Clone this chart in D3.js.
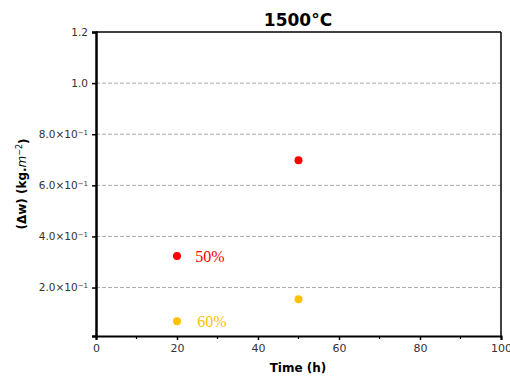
<!DOCTYPE html>
<html><head><meta charset="utf-8">
<script src="https://cdn.jsdelivr.net/npm/d3@7"></script>
<style>body{margin:0;background:#fff}svg{display:block}</style>
</head><body>
<svg id="c" width="510" height="376"></svg>
<script>
const times = [20, 50];
const series50 = [0.323, 0.698];
const series60 = [0.068, 0.154];
const seriesNames = ["50%", "60%"];
const seriesColors = ["#ff0000", "#ffc000"];
const xTicks = [0, 20, 40, 60, 80, 100];
const xMinor = [10, 30, 50, 70, 90];
const yTicks = [0.2, 0.4, 0.6, 0.8, 1.0, 1.2];
const yTickLabels = [["2.0×10","−1"],["4.0×10","−1"],["6.0×10","−1"],["8.0×10","−1"],["1.0",""],["1.2",""]];
const labelPos = [[24.5, 0.32], [25, 0.068]];

const svg = d3.select("#c");
const m = {l:96, r:501, t:32, b:336};
const x = d3.scaleLinear().domain([0,100]).range([m.l, m.r]);
const y = d3.scaleLinear().domain([0.0104,1.2]).range([m.b, m.t]);

// grid
svg.append("g").selectAll("line").data(yTicks.slice(0,5)).join("line")
  .attr("x1", m.l).attr("x2", m.r).attr("y1", d=>y(d)).attr("y2", d=>y(d))
  .attr("stroke", "#aaa").attr("stroke-width", 1).attr("stroke-dasharray", "4,2");

// frame
svg.append("line").attr("x1",m.l).attr("x2",m.r).attr("y1",m.t).attr("y2",m.t).attr("stroke","#000").attr("stroke-width",1.5);
svg.append("line").attr("x1",m.r).attr("x2",m.r).attr("y1",m.t).attr("y2",m.b).attr("stroke","#000").attr("stroke-width",1.5);

// x axis
const xa = svg.append("g").attr("transform", `translate(0,${m.b})`)
  .call(d3.axisBottom(x).tickValues(xTicks).tickSize(4).tickPadding(4).tickFormat(d3.format("d")));
xa.select(".domain").attr("stroke-width", 2);
xa.selectAll(".tick line").attr("stroke-width", 1.5);
xa.selectAll("text").attr("font-family","DejaVu Sans").attr("font-size",11).attr("fill","#333");
svg.append("g").attr("transform", `translate(0,${m.b})`).selectAll("line").data(xMinor).join("line")
  .attr("x1", d=>x(d)).attr("x2", d=>x(d)).attr("y1", 0).attr("y2", 3).attr("stroke","#000").attr("stroke-width",1.2);

// y axis
const ya = svg.append("g").attr("transform", `translate(${m.l},0)`)
  .call(d3.axisLeft(y).tickValues(yTicks).tickSize(4).tickPadding(4).tickFormat(""));
ya.select(".domain").attr("stroke-width", 2.5);
ya.selectAll(".tick line").attr("stroke-width", 1.5);
ya.selectAll(".tick").each(function(d,i){
  const t = d3.select(this).append("text").attr("x",-8).attr("dy","0.32em")
    .attr("text-anchor","end").attr("font-family","DejaVu Sans").attr("font-size",10.5).attr("fill","#333");
  const lab = yTickLabels[i];
  t.append("tspan").text(lab[0]);
  if (lab[1]) t.append("tspan").attr("dy","-0.45em").attr("font-size",7).text(lab[1]);
});

// points
const sets = [series50, series60];
sets.forEach((vals, si) => {
  svg.append("g").selectAll("circle").data(vals).join("circle")
    .attr("cx", (d,i)=>x(times[i])).attr("cy", d=>y(d)).attr("r", 4).attr("fill", seriesColors[si]);
  svg.append("text").attr("x", x(labelPos[si][0])).attr("y", y(labelPos[si][1])).attr("dy","0.35em")
    .attr("font-family","Liberation Serif").attr("font-size",16).attr("fill",seriesColors[si]).text(seriesNames[si]);
});

// title
svg.append("text").attr("x", 298).attr("y", 26).attr("text-anchor","middle")
  .attr("font-family","DejaVu Sans").attr("font-weight","bold").attr("font-size",17).text("1500°C");

// x label
svg.append("text").attr("x", 298).attr("y", 372).attr("text-anchor","middle")
  .attr("font-family","DejaVu Sans").attr("font-weight","bold").attr("font-size",12).text("Time (h)");

// y label
const yl = svg.append("text").attr("transform","translate(26,184) rotate(-90)").attr("text-anchor","middle")
  .attr("font-family","DejaVu Sans").attr("font-weight","bold").attr("font-size",12);
yl.append("tspan").text("(Δw) (kg.");
yl.append("tspan").attr("font-style","italic").attr("font-weight","normal").text("m");
yl.append("tspan").attr("dy","-0.5em").attr("font-size",8).attr("font-weight","normal").text("−2");
yl.append("tspan").attr("dy","0.5em").text(")");
</script>
</body></html>
